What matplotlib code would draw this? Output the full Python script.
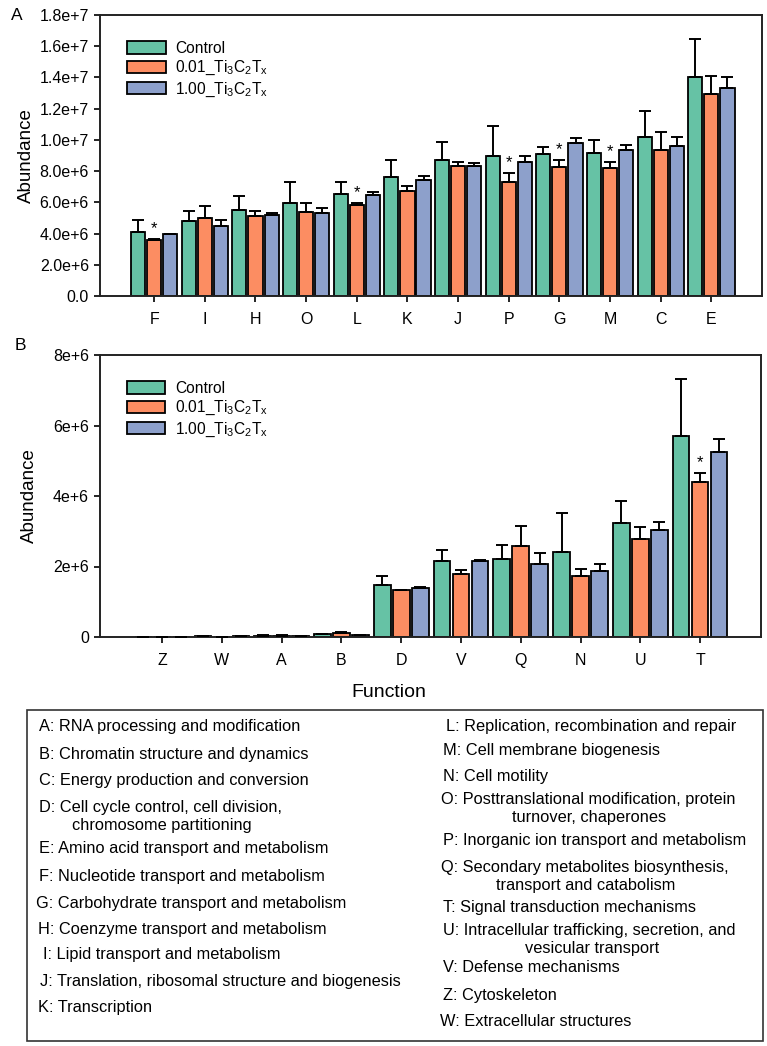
import numpy as np
import matplotlib
matplotlib.use("Agg")
import matplotlib.pyplot as plt
from matplotlib.patches import Rectangle

plt.rcParams['font.family'] = ['Liberation Sans', 'DejaVu Sans']

# ---------------- data ----------------
series_names = ["Control",
                r"0.01_Ti$_{\mathregular{3}}$C$_{\mathregular{2}}$T$_{\mathregular{x}}$",
                r"1.00_Ti$_{\mathregular{3}}$C$_{\mathregular{2}}$T$_{\mathregular{x}}$"]
colors = ["#66c2a5", "#fc8d62", "#8da0cb"]

cats_A = ["F", "I", "H", "O", "L", "K", "J", "P", "G", "M", "C", "E"]
ctrl_A = [4.10, 4.79, 5.53, 5.94, 6.56, 7.63, 8.72, 8.97, 9.12, 9.15, 10.21, 14.04]
ctrl_A_err = [0.75, 0.66, 0.86, 1.37, 0.75, 1.07, 1.15, 1.95, 0.45, 0.83, 1.61, 2.43]
low_A = [3.57, 4.98, 5.11, 5.41, 5.83, 6.73, 8.35, 7.33, 8.25, 8.18, 9.34, 12.93]
low_A_err = [0.08, 0.79, 0.34, 0.57, 0.11, 0.32, 0.22, 0.55, 0.47, 0.39, 1.19, 1.19]
high_A = [3.95, 4.51, 5.17, 5.34, 6.50, 7.46, 8.35, 8.61, 9.81, 9.34, 9.62, 13.35]
high_A_err = [0.05, 0.38, 0.17, 0.30, 0.17, 0.23, 0.20, 0.34, 0.32, 0.36, 0.59, 0.67]
sig_A = ["F", "L", "P", "G", "M"]
yticks_A = [0, 2e6, 4e6, 6e6, 8e6, 1e7, 1.2e7, 1.4e7, 1.6e7, 1.8e7]
yticklabels_A = ["0.0", "2.0e+6", "4.0e+6", "6.0e+6", "8.0e+6", "1.0e+7",
                 "1.2e+7", "1.4e+7", "1.6e+7", "1.8e+7"]

cats_B = ["Z", "W", "A", "B", "D", "V", "Q", "N", "U", "T"]
ctrl_B = [0.002, 0.02, 0.04, 0.08, 1.47, 2.16, 2.21, 2.41, 3.23, 5.69]
ctrl_B_err = [0.0, 0.003, 0.005, 0.01, 0.25, 0.30, 0.41, 1.11, 0.64, 1.64]
low_B = [0.001, 0.005, 0.04, 0.11, 1.32, 1.78, 2.57, 1.73, 2.78, 4.40]
low_B_err = [0.0, 0.002, 0.005, 0.02, 0.02, 0.11, 0.58, 0.19, 0.35, 0.26]
high_B = [0.001, 0.02, 0.035, 0.05, 1.40, 2.16, 2.07, 1.88, 3.03, 5.26]
high_B_err = [0.0, 0.002, 0.004, 0.005, 0.03, 0.03, 0.30, 0.18, 0.22, 0.36]
sig_B = ["T"]
yticks_B = [0, 2e6, 4e6, 6e6, 8e6]
yticklabels_B = ["0", "2e+6", "4e+6", "6e+6", "8e+6"]

descriptions_left = [
    "A: RNA processing and modification",
    "B: Chromatin structure and dynamics",
    "C: Energy production and conversion",
    "D: Cell cycle control, cell division,\nchromosome partitioning",
    "E: Amino acid transport and metabolism",
    "F: Nucleotide transport and metabolism",
    "G: Carbohydrate transport and metabolism",
    "H: Coenzyme transport and metabolism",
    "I: Lipid transport and metabolism",
    "J: Translation, ribosomal structure and biogenesis",
    "K: Transcription",
]
descriptions_right = [
    "L: Replication, recombination and repair",
    "M: Cell membrane biogenesis",
    "N: Cell motility",
    "O: Posttranslational modification, protein\nturnover, chaperones",
    "P: Inorganic ion transport and metabolism",
    "Q: Secondary metabolites biosynthesis,\ntransport and catabolism",
    "T: Signal transduction mechanisms",
    "U: Intracellular trafficking, secretion, and\nvesicular transport",
    "V: Defense mechanisms",
    "Z: Cytoskeleton",
    "W: Extracellular structures",
]

# ---------------- figure ----------------
W, H = 767, 1046
fig = plt.figure(figsize=(W / 100, H / 100), dpi=100)


def px_axes(left, top, right, bottom):
    return fig.add_axes([left / W, 1 - bottom / H, (right - left) / W, (bottom - top) / H])


def draw_panel(ax, cats, vals, errs, sig, yticks, yticklabels, scale, xlim):
    x = np.arange(len(cats))
    width = 0.28
    offs = [-0.318, 0.0, 0.318]
    for i in range(3):
        v = np.array(vals[i]) * scale
        e = np.array(errs[i]) * scale
        ax.bar(x + offs[i], v, width, color=colors[i], edgecolor="black",
               linewidth=1.3, label=series_names[i], zorder=2)
        ax.errorbar(x + offs[i], v, yerr=[np.zeros_like(e), e], fmt="none",
                    ecolor="black", elinewidth=1.4, capsize=4.5, capthick=1.4, zorder=3)
    for c in sig:
        j = cats.index(c)
        top = (vals[1][j] + errs[1][j]) * scale
        ax.text(x[j] + offs[1], top + 0.01 * yticks[-1], "*", ha="center", va="bottom",
                fontsize=12)
    ax.set_xticks(x)
    ax.set_xticklabels(cats, fontsize=11.5)
    ax.set_yticks(yticks)
    ax.set_yticklabels(yticklabels, fontsize=11.5)
    ax.set_xlim(*xlim)
    ax.set_ylim(0, yticks[-1])
    ax.tick_params(direction="out", length=4.5, width=1.2, colors="black")
    ax.tick_params(axis="x", pad=7)
    for s in ax.spines.values():
        s.set_linewidth(1.4)
        s.set_color("#222222")
    ax.set_ylabel("Abundance", fontsize=13.5)
    leg = ax.legend(loc="upper left", bbox_to_anchor=(0.032, 0.93), frameon=False,
                    fontsize=11.2, handlelength=2.45, handleheight=0.85,
                    labelspacing=0.2, handletextpad=0.6, borderaxespad=0)
    for p in leg.get_patches():
        p.set_linewidth(1.3)


axA = px_axes(100, 15, 762, 296)
draw_panel(axA, cats_A, [ctrl_A, low_A, high_A], [ctrl_A_err, low_A_err, high_A_err],
           sig_A, yticks_A, yticklabels_A, 1e6, (-1.07, 12.0))
axA.yaxis.set_label_coords(-0.098, 0.5)

axB = px_axes(100, 355, 761, 637)
draw_panel(axB, cats_B, [ctrl_B, low_B, high_B], [ctrl_B_err, low_B_err, high_B_err],
           sig_B, yticks_B, yticklabels_B, 1e6, (-1.04, 10.02))
axB.yaxis.set_label_coords(-0.094, 0.5)
axB.set_xlabel("Function", fontsize=14)
axB.xaxis.set_label_coords(0.437, -0.165)

fig.text(17 / W, 1 - 16 / H, "A", fontsize=12.5, ha="center", va="center")
fig.text(20 / W, 1 - 346 / H, "B", fontsize=12.5, ha="center", va="center")

# ---------------- description box ----------------
axT = fig.add_axes([0, 0, 1, 1])
axT.set_xlim(0, W)
axT.set_ylim(H, 0)
axT.axis("off")
axT.patch.set_alpha(0)
axT.add_patch(Rectangle((27, 710), 736, 331, fill=False, edgecolor="#333333", linewidth=1.2))

fs_box = 11.8
left_y = [726.7, 754, 780.7, 807.7, 849, 876.7, 903.3, 929.3, 955, 981.7, 1007.7]
left_x = [39, 39, 39, 39, 39, 39, 36, 38, 43, 40, 38]
for s, y, xx in zip(descriptions_left, left_y, left_x):
    parts = s.split("\n")
    axT.text(xx, y, parts[0], fontsize=fs_box, ha="left", va="center")
    if len(parts) > 1:
        axT.text(72, y + 18, parts[1], fontsize=fs_box, ha="left", va="center")

right_y = [726, 751, 776.7, 799.3, 841, 867.7, 907.7, 930.7, 967.3, 995.7, 1021]
right_x = [446, 443, 443, 441, 443, 441, 443, 443, 443, 443, 440]
second_cx = {3: 589, 5: 586, 7: 592}
for k, (s, y, xx) in enumerate(zip(descriptions_right, right_y, right_x)):
    parts = s.split("\n")
    axT.text(xx, y, parts[0], fontsize=fs_box, ha="left", va="center")
    if len(parts) > 1:
        axT.text(second_cx[k], y + 18, parts[1], fontsize=fs_box, ha="center", va="center")

fig.savefig("out.png", dpi=100)
